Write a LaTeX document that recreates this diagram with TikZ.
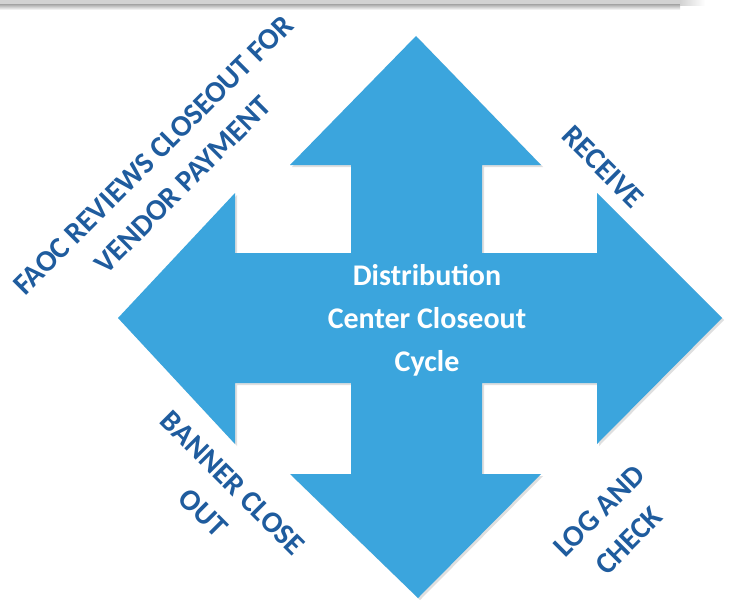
\documentclass[tikz,border=0pt]{standalone}
\usepackage{fontspec}
\setmainfont{Carlito}
\usetikzlibrary{shadows}
\definecolor{arrowblue}{RGB}{59,165,221}
\definecolor{labelblue}{RGB}{31,92,158}
\begin{document}
\begin{tikzpicture}[x=1pt,y=-1pt,
  lbl/.style={text=labelblue,font=\fontsize{30}{42}\selectfont\bfseries,align=center,inner sep=0pt},
  ctr/.style={text=white,font=\fontsize{30}{43}\selectfont\bfseries,align=center,inner sep=0pt}]
\useasboundingbox (0,0) rectangle (730,599);
\fill[white] (0,0) rectangle (730,599);
% top grey bar
\fill[gray!35] (0,0) rectangle (680,5);
\shade[top color=gray!60,bottom color=white] (0,5) rectangle (680,10);
\shade[left color=gray!35,right color=white] (680,0) rectangle (705,6);
% four-way arrow
\fill[arrowblue,drop shadow={opacity=0.25,shadow xshift=2pt,shadow yshift=-2pt}]
  (416,36) -- (541,165) -- (482,165) -- (482,253) -- (597,253) -- (597,193)
  -- (722,318) -- (597,444) -- (597,383) -- (482,383) -- (482,474) -- (541,474)
  -- (418,598) -- (290,474) -- (351,474) -- (351,383) -- (235,383) -- (235,444)
  -- (118,318) -- (235,193) -- (235,253) -- (351,253) -- (351,165) -- (290,165) -- cycle;
% texts
\node[ctr] (centre) at (427,320) {Distribution\\Center Closeout\\Cycle};
\node[lbl,rotate=45] (faoc) at (168,170) {FAOC REVIEWS CLOSEOUT FOR\\VENDOR PAYMENT};
\node[lbl,rotate=-45] (receive) at (603,167) {RECEIVE};
\node[lbl,rotate=-45] (banner) at (218,498) {BANNER CLOSE\\OUT};
\node[lbl,rotate=45] (logcheck) at (614,526) {LOG AND\\CHECK};
\end{tikzpicture}
\end{document}
